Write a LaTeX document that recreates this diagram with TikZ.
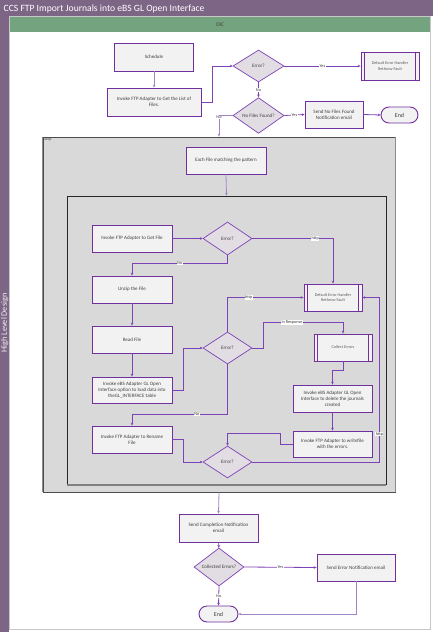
\documentclass[tikz,border=0pt]{standalone}
\usepackage{fontspec}
\setmainfont{Carlito}
\usetikzlibrary{shapes.geometric,arrows.meta,calc}
\definecolor{titlec}{HTML}{7D6586}
\definecolor{greenc}{HTML}{73A47F}
\definecolor{boxc}{HTML}{7030A0}
\definecolor{connc}{HTML}{7E42B8}
\definecolor{connl}{HTML}{A283C8}
\definecolor{boxfill}{HTML}{F2F2F2}
\definecolor{diafill}{HTML}{E1DDE2}
\definecolor{loopfill}{HTML}{D9D9D9}
\definecolor{txtc}{HTML}{404040}
\definecolor{framec}{HTML}{C8C8C8}
\begin{document}
\begin{tikzpicture}[x=1pt,y=-1pt,
 box/.style={draw=boxc, line width=0.9pt, fill=boxfill, text=txtc, font=\fontsize{5}{6.2}\selectfont, align=center, inner sep=1pt},
 sz/.style 2 args={minimum width=#1pt, minimum height=#2pt},
 pp/.style={box, font=\fontsize{4.2}{5.4}\selectfont, text=txtc!85,
   path picture={\draw[boxc, line width=0.7pt]
     ([xshift=3.4pt]path picture bounding box.north west) -- ([xshift=3.4pt]path picture bounding box.south west)
     ([xshift=-3.4pt]path picture bounding box.north east) -- ([xshift=-3.4pt]path picture bounding box.south east);}},
 dia/.style={diamond, draw=connc, line width=0.7pt, fill=diafill, text=txtc, font=\fontsize{5}{6}\selectfont, inner sep=0pt, align=center},
 term/.style={box, rounded corners=8pt, font=\fontsize{6}{7}\selectfont},
 cont/.style={fill=loopfill, inner sep=0pt},
 conn/.style={draw=connc, line width=0.8pt, -{Stealth[length=2.8pt,width=2.6pt]}},
 connlt/.style={conn, draw=connl},
 lbl/.style={fill=white, inner sep=0.4pt, text=txtc, font=\fontsize{4.3}{5}\selectfont}
]
\useasboundingbox (0,0) rectangle (433,632);
% frame
\fill[white] (0,0) rectangle (433,632);
\fill[titlec] (0,0) rectangle (433,16);
\node[anchor=west, text=white, font=\fontsize{9.6}{10}\selectfont, inner sep=0pt] (title) at (3.5,8.5) {CCS FTP Import Journals into eBS GL Open Interface};
\fill[titlec] (0,16) rectangle (9,632);
\node[rotate=90, text=white!90!titlec, font=\fontsize{8.3}{9}\selectfont, inner sep=0pt] (hld) at (4.7,323) {High Level Design};
\draw[framec, line width=0.6pt] (9.5,16.5) rectangle (430.5,629.5);
\fill[greenc] (10,17) rectangle (430,32);
\node[text=txtc, font=\fontsize{5.5}{6}\selectfont, inner sep=0pt] (oic) at (220,24.5) {OIC};

% top nodes
\node[box, sz={79}{28}] (sched) at (154,57) {Schedule};
\node[box, sz={94}{28}] (inv) at (154,102) {Invoke FTP Adapter to Get the List of\\Files.};
\node[dia, minimum width=51pt, minimum height=32pt] (err0) at (258.5,66) {Error?};
\node[pp, sz={58}{28}] (deh0) at (390,66) {Default Error Handler\\Rethrow Fault};
\node[dia, minimum width=51pt, minimum height=33pt] (nff) at (258.5,115.5) {No Files Found?};
\node[box, sz={58}{27}] (sendnf) at (334,114.5) {Send No Files Found\\Notification email};
\node[term, sz={37}{16}] (end0) at (399.5,115) {End};

% containers
\node[cont, draw=black!70, line width=0.9pt, sz={352}{355}] (loop) at (219,314.5) {};
\draw[black!45, line width=1.2pt] (loop.north west) -- (loop.south west) (loop.north east) -- (loop.south east);
\node[anchor=north west, inner sep=0.8pt, text=txtc, font=\fontsize{4}{4.5}\selectfont] (looplbl) at (loop.north west) {Loop};
\node[box, sz={80}{27}] (each) at (226,160.5) {Each File matching the pattern};
\node[cont, draw=black!85, line width=0.7pt, sz={319}{288}] (inner) at (226.5,340) {};
\draw[black!50, line width=1.3pt] ([yshift=-0.6pt]inner.south west) -- ([yshift=-0.6pt]inner.south east);

% inner nodes
\node[box, sz={80}{27}] (gf) at (132,238.5) {Invoke FTP  Adapter to Get File};
\node[dia, minimum width=49pt, minimum height=33pt] (e1) at (227.5,238.5) {Error?};
\node[pp, sz={58}{27}] (deh) at (333,297.5) {Default Error Handler\\Rethrow Fault};
\node[box, sz={80}{27}] (unzip) at (132,289.5) {Unzip the File};
\node[box, sz={80}{27}] (read) at (132,339.5) {Read File};
\node[box, sz={80}{26}] (load) at (132,390) {Invoke eBS Adapter GL Open\\Interface option to load data into\\theGL\_INTERFACE table};
\node[dia, minimum width=49pt, minimum height=32pt] (e2) at (227.5,348) {Error?};
\node[pp, sz={58}{27}] (collect) at (343,347.5) {Collect Errors};
\node[box, sz={79}{27}] (loaddel) at (332.5,398.5) {Invoke eBS Adapter GL Open\\Interface to delete the journals\\created};
\node[box, sz={79}{26}] (wf) at (332.5,444) {Invoke FTP Adapter to  writefile\\with the errors.};
\node[box, sz={80}{27}] (rename) at (132,439.5) {Invoke FTP Adapter to  Rename\\File};
\node[dia, minimum width=49pt, minimum height=32pt] (e3) at (227.5,462) {Error?};

% bottom nodes
\node[box, sz={79}{28}] (sendc) at (218.5,528) {Send Completion Notification\\email};
\node[dia, minimum width=50pt, minimum height=32pt] (ce) at (219,567) {Collected Errors?};
\node[box, sz={78}{27}] (senderr) at (356,567.5) {Send Error Notification email};
\node[term, sz={39}{16}] (end1) at (218.5,614) {End};

% connectors top
\draw[connlt] (sched) -- (inv);
\draw[conn] (inv.east) -- ++(11,0) |- (err0.west);
\draw[conn] (err0.east) -- node[lbl]{Yes} (deh0.west);
\draw[conn] (err0.south) -- node[lbl]{No} (nff.north);
\draw[conn] (nff.east) -- node[lbl]{Yes} (sendnf.west);
\draw[conn] (sendnf.east) -- (end0.west);
\draw[connlt] (nff.west) -| node[lbl, pos=0.55]{No} (loop.north);
\draw[connlt] (each.south) -- (inner.north);

% connectors inner
\draw[conn] (gf.east) -- (e1.west);
\draw[conn] (e1.east) -| node[lbl, pos=0.39]{http} (deh.north);
\draw[conn] (e1.south) -- ++(0,8) -| node[lbl, pos=0.25]{No} (unzip.north);
\draw[conn] (unzip) -- (read);
\draw[conn] (read) -- (load);
\draw[conn] (load.east) -- ++(11,0) |- (e2.west);
\draw[conn] (e2.north) |- node[lbl, pos=0.64]{http} (deh.west);
\draw[conn] (e2.east) -- ++(11,0) |- node[lbl, pos=0.68]{In Response} ([yshift=11pt]collect.north) -- (collect.north);
\draw[conn] (collect.south) -- ++(0,9) -| (loaddel.north);
\draw[conn] (loaddel) -- (wf);
\draw[conn] (wf.west) -- ++(-12,0) |- ([yshift=12pt]e3.north) -- (e3.north);
\draw[conn] (e2.south) -- ++(0,50) -| node[lbl, pos=0.16]{No} (rename.north);
\draw[conn] (rename.east) -- ++(11,0) |- (e3.west);
\draw[conn] (e3.east) -| node[lbl, pos=0.585]{http} ([xshift=17pt]deh.east) -- (deh.east);

% connectors bottom
\draw[connlt] (loop.south) -- (sendc.north);
\draw[conn] (sendc) -- (ce);
\draw[conn] (ce.east) -- node[lbl]{Yes} (senderr.west);
\draw[conn] (ce.south) -- node[lbl]{No} (end1.north);
\draw[connlt] (senderr.south) |- (end1.east);
\end{tikzpicture}
\end{document}
